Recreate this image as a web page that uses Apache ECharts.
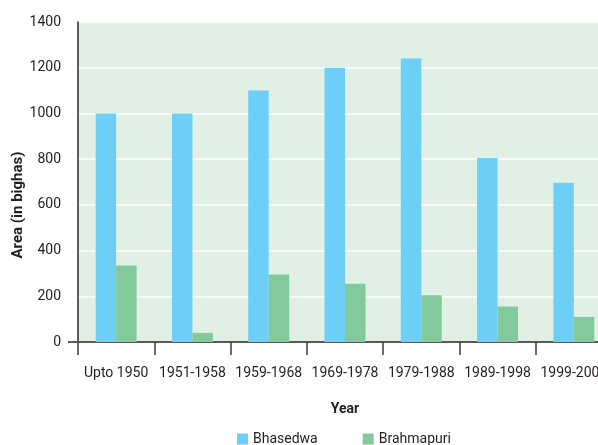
<!DOCTYPE html>
<html>
<head>
<meta charset="utf-8">
<script src="https://cdn.jsdelivr.net/npm/echarts@6/dist/echarts.min.js"></script>
<style>
  html, body { margin: 0; padding: 0; background: #ffffff; overflow: hidden; }
  #chart { width: 700px; height: 445px; }
</style>
</head>
<body>
<div id="chart"></div>
<script>
// Area under cultivation per period for two villages
const categories = ['Upto 1950', '1951-1958', '1959-1968', '1969-1978', '1979-1988', '1989-1998', '1999-2008'];
const bhasedwa = [1000, 1000, 1100, 1200, 1240, 805, 697];
const brahmapuri = [335, 40, 295, 255, 205, 155, 110];
const yTicks = { min: 0, max: 1400, interval: 200 };
const yTitle = 'Area (in bighas)';

const FONT = "Roboto, 'Noto Sans', sans-serif";
const TEXT = '#231f20';

const chart = echarts.init(document.getElementById('chart'), null, { renderer: 'canvas' });

chart.setOption({
  animation: false,
  backgroundColor: '#ffffff',
  textStyle: { fontFamily: FONT, color: TEXT },
  grid: {
    left: 78, top: 22, width: 534, height: 320,
    outerBoundsMode: 'none', containLabel: false,
    show: true, backgroundColor: '#e1f0e5', borderWidth: 0
  },
  legend: {
    bottom: -1, left: 237, padding: 0,
    itemWidth: 11, itemHeight: 11, itemGap: 45,
    icon: 'rect',
    textStyle: { fontFamily: FONT, fontSize: 14, color: TEXT },
    data: ['Bhasedwa', 'Brahmapuri']
  },
  xAxis: {
    type: 'category',
    data: categories,
    name: 'Year',
    nameLocation: 'middle',
    nameGap: 60,
    nameMoveOverlap: false,
    nameTextStyle: { fontFamily: FONT, fontSize: 14, fontWeight: 'bold', color: TEXT },
    axisLine: { lineStyle: { color: '#5a5a5a', width: 2 } },
    axisTick: { show: true, length: 13, alignWithLabel: false, lineStyle: { color: '#3a3a3a', width: 1.5 } },
    axisLabel: { fontFamily: FONT, fontSize: 14, color: TEXT, margin: 24, interval: 0 },
    splitLine: { show: false }
  },
  yAxis: {
    type: 'value',
    min: yTicks.min, max: yTicks.max, interval: yTicks.interval,
    axisLine: { show: true, lineStyle: { color: '#2a2a2a', width: 1.5 } },
    axisTick: { show: false },
    axisLabel: { fontFamily: FONT, fontSize: 14, color: TEXT, margin: 17, formatter: v => String(v) },
    splitLine: { show: true, lineStyle: { color: '#ffffff', width: 1.5 } }
  },
  series: [
    {
      name: 'Bhasedwa', type: 'bar', data: bhasedwa,
      barWidth: 20.5, barGap: '0%',
      itemStyle: { color: '#6dcff6' }
    },
    {
      name: 'Brahmapuri', type: 'bar', data: brahmapuri,
      barWidth: 20.5, barGap: '0%',
      itemStyle: { color: '#82ca9c' }
    }
  ]
});

// baseline stub left of the value axis, and the rotated value-axis title
const origin = chart.convertToPixel({ gridIndex: 0 }, [0, 0]);
const x0 = chart.convertToPixel({ xAxisIndex: 0 }, categories[0]) - 534 / categories.length / 2;
chart.setOption({
  graphic: [
    {
      type: 'line',
      shape: { x1: x0 - 10, y1: origin[1], x2: x0, y2: origin[1] },
      style: { stroke: '#5a5a5a', lineWidth: 2 },
      z: 10
    },
    {
      type: 'text',
      x: x0 - 60, y: 205,
      rotation: Math.PI / 2,
      style: {
        text: yTitle,
        fontFamily: FONT, fontSize: 15, fontWeight: 'bold', fill: TEXT,
        align: 'center', verticalAlign: 'middle'
      },
      z: 10
    }
  ]
});
</script>
</body>
</html>
